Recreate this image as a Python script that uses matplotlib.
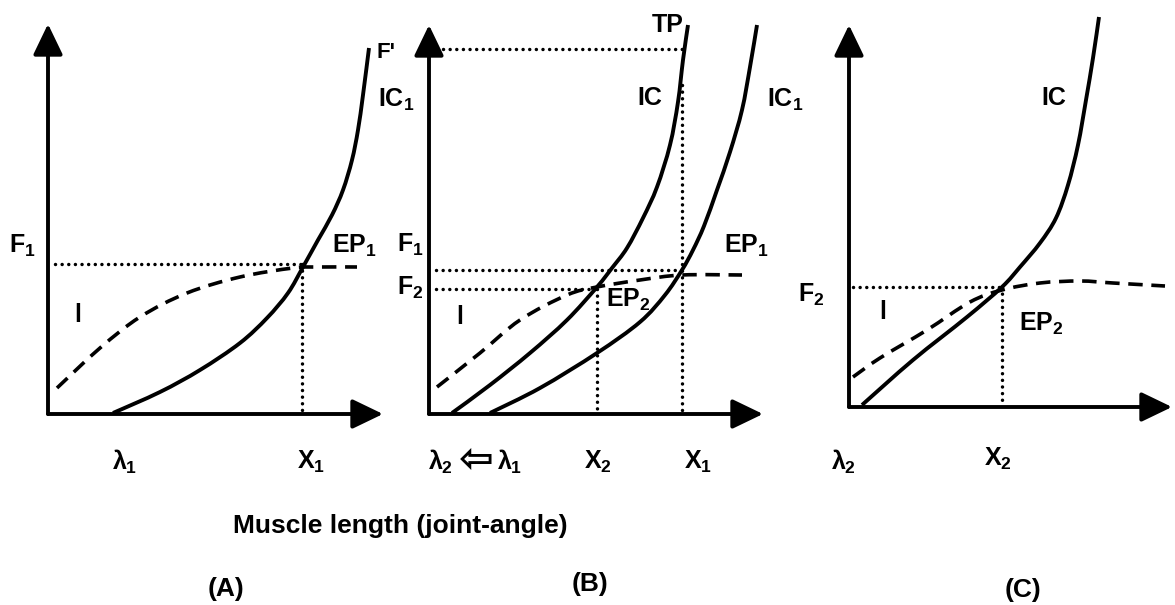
import matplotlib
matplotlib.use("Agg")
import matplotlib.pyplot as plt
import numpy as np
from matplotlib.path import Path
from matplotlib.patches import PathPatch

plt.rcParams['font.family'] = ['Liberation Sans', 'DejaVu Sans']
plt.rcParams['font.weight'] = 'bold'
plt.rcParams['mathtext.fontset'] = 'custom'
plt.rcParams['mathtext.rm'] = 'Liberation Sans:bold'
plt.rcParams['mathtext.it'] = 'Liberation Sans:bold'
plt.rcParams['mathtext.bf'] = 'Liberation Sans:bold'

# curves (pixel space, y downwards)
# panel A
a_ic_x = [113, 160, 200, 240, 267, 288, 303, 318, 332, 343, 352, 358, 363, 369]
a_ic_y = [413, 392, 370, 343, 318, 293, 267, 240, 215, 190, 160, 130, 95, 48]
a_i_x = [57, 100, 140, 187, 240, 293, 320, 357]
a_i_y = [388, 348, 317, 293, 277, 268, 267, 267]
# panel B
b_ic_x = [452, 490, 530, 567, 597, 612, 627, 643, 657, 670, 678, 683, 688]
b_ic_y = [413, 385, 353, 320, 287, 268, 248, 218, 187, 145, 102, 60, 25]
b_ic1_x = [490, 540, 597, 640, 665, 682, 693, 704, 717, 730, 742, 750, 757]
b_ic1_y = [413, 388, 353, 322, 295, 270, 250, 226, 190, 152, 110, 67, 25]
b_i_x = [437, 480, 520, 567, 597, 640, 682, 742]
b_i_y = [387, 353, 320, 295, 287, 280, 275, 275]
# panel C
c_ic_x = [862, 913, 967, 1002, 1020, 1040, 1056, 1068, 1078, 1086, 1093, 1099]
c_ic_y = [405, 360, 317, 287, 267, 243, 218, 185, 145, 100, 58, 17]
c_i_x = [853, 880, 927, 970, 1002, 1040, 1080, 1113, 1165]
c_i_y = [377, 358, 330, 302, 290, 283, 281, 283, 286]

# equilibrium / reference levels
a_f1, a_x1 = 264, 302
b_f1, b_f2, b_fp = 270, 289, 49
b_x2, b_x1 = 597, 682
c_f2, c_x2 = 287, 1002

fig = plt.figure(figsize=(11.75, 6.05), dpi=100)
ax = fig.add_axes([0, 0, 1, 1])
ax.set_xlim(0, 1175)
ax.set_ylim(605, 0)
ax.axis('off')

dashed = (0, (4, 2.4))
dot = dict(color='black', lw=2.5, linestyle=(0, (0.01, 1.9)), dash_capstyle='round')


def smooth_curve(xs, ys, **kw):
    # catmull-rom through the read points, drawn as cubic bezier pieces
    p = np.column_stack([xs, ys]).astype(float)
    p = np.vstack([p[0], p, p[-1]])
    verts = [p[1]]
    codes = [Path.MOVETO]
    for i in range(1, len(p) - 2):
        c1 = p[i] + (p[i + 1] - p[i - 1]) / 6
        c2 = p[i + 1] - (p[i + 2] - p[i]) / 6
        verts += [c1, c2, p[i + 1]]
        codes += [Path.CURVE4] * 3
    ax.add_patch(PathPatch(Path(verts, codes), fill=False, edgecolor='black', **kw))


def axis_arrow(x0, y0, x1, y1):
    ax.annotate('', xy=(x1, y1), xytext=(x0, y0),
                arrowprops=dict(arrowstyle='-|>,head_length=1.35,head_width=0.65',
                                mutation_scale=14, lw=2.8, color='black',
                                shrinkA=0, shrinkB=0))


# axes of the three panels
for ox, oy, ytop, xend in [(48, 414, 24, 383), (429, 414, 25, 763), (849, 407, 25, 1172)]:
    axis_arrow(ox, oy, ox, ytop)
    axis_arrow(ox, oy, xend, oy)

# panel A
smooth_curve(a_ic_x, a_ic_y, lw=2.8)
smooth_curve(a_i_x, a_i_y, lw=2.6, linestyle=dashed)
ax.plot([55, a_x1], [a_f1, a_f1], **dot)
ax.plot([a_x1, a_x1], [a_f1, 412], **dot)

# panel B
smooth_curve(b_ic_x, b_ic_y, lw=2.8)
smooth_curve(b_ic1_x, b_ic1_y, lw=2.8)
smooth_curve(b_i_x, b_i_y, lw=2.6, linestyle=dashed)
ax.plot([436, b_x1], [b_f1, b_f1], **dot)
ax.plot([436, b_x2], [b_f2, b_f2], **dot)
ax.plot([443, b_x1], [b_fp, b_fp], **dot)
ax.plot([b_x2, b_x2], [b_f2, 412], **dot)
ax.plot([b_x1, b_x1], [85, 412], **dot)

# panel C
smooth_curve(c_ic_x, c_ic_y, lw=2.8)
smooth_curve(c_i_x, c_i_y, lw=2.6, linestyle=dashed)
ax.plot([853, c_x2], [c_f2, c_f2], **dot)
ax.plot([c_x2, c_x2], [c_f2, 405], **dot)

fs = 18
labels = [
    # panel A
    (22, 246, r'$F_1$'), (354, 246, r'$EP_1$'), (78, 315, 'l'),
    (125, 462, r'$\lambda_1$'), (311, 462, r'$X_1$'),
    # panel B
    (668, 25, 'TP'), (396, 100, r'$IC_1$'), (650, 98, 'IC'), (785, 100, r'$IC_1$'),
    (410, 245, r'$F_1$'), (746, 246, r'$EP_1$'), (410, 288, r'$F_2$'),
    (628, 300, r'$EP_2$'), (460, 317, 'l'),
    (440, 462, r'$\lambda_2$'), (510, 462, r'$\lambda_1$'),
    (598, 462, r'$X_2$'), (698, 462, r'$X_1$'),
    # panel C
    (1054, 98, 'IC'), (811, 295, r'$F_2$'), (883, 312, 'l'), (1041, 324, r'$EP_2$'),
    (843, 462, r'$\lambda_2$'), (998, 459, r'$X_2$'),
]
for x, y, s in labels:
    ax.text(x, y, s, fontsize=fs, fontweight='bold', ha='center', va='center')

ax.text(386, 53, "F'", fontsize=16, fontweight='bold', ha='center', va='center')
ax.text(476, 460, '\u21e6', fontsize=30, fontweight='bold', ha='center', va='center',
        family=['DejaVu Sans'])

ax.text(400, 533, 'Muscle length (joint-angle)', fontsize=19, fontweight='bold',
        ha='center', va='baseline')
ax.text(226, 596, '(A)', fontsize=19, fontweight='bold', ha='center', va='baseline')
ax.text(590, 591, '(B)', fontsize=19, fontweight='bold', ha='center', va='baseline')
ax.text(1023, 597, '(C)', fontsize=19, fontweight='bold', ha='center', va='baseline')

fig.savefig('out.png', dpi=100)
